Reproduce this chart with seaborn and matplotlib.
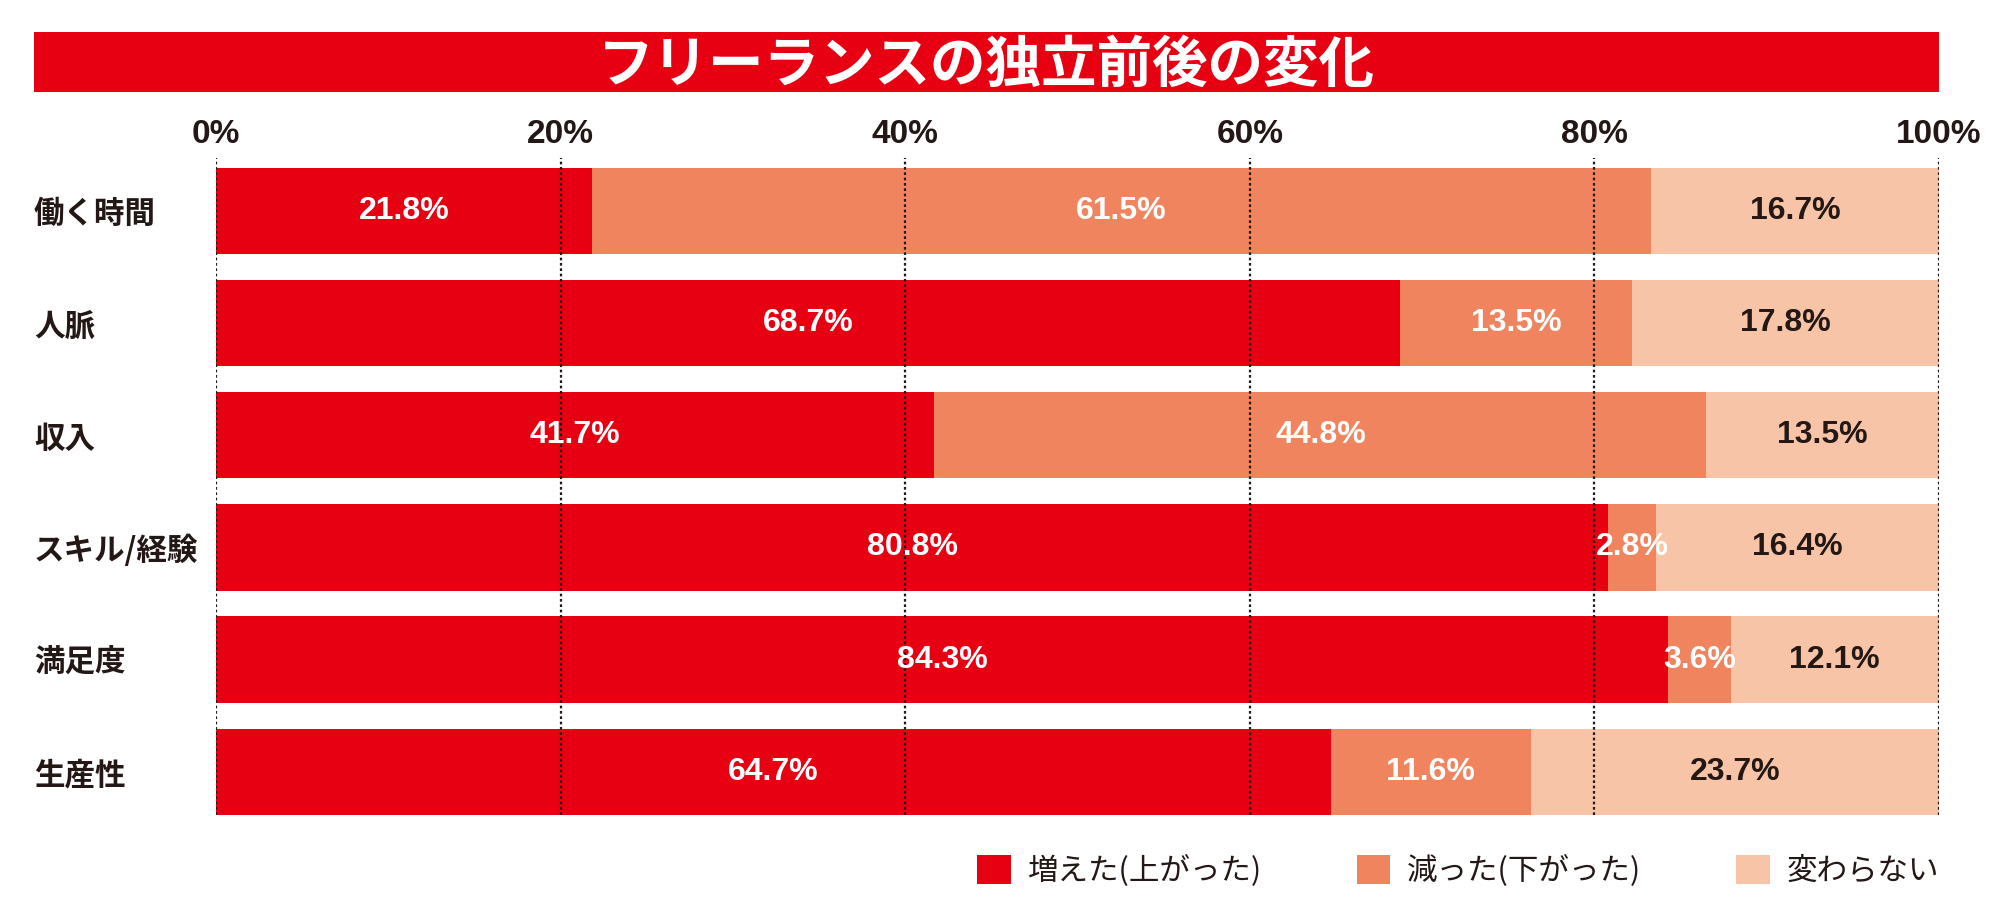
import matplotlib
matplotlib.use("Agg")
import matplotlib.pyplot as plt
import seaborn as sns
import pandas as pd
import numpy as np
from matplotlib.patches import Patch, Rectangle

categories = ["働く時間", "人脈", "収入", "スキル/経験", "満足度", "生産性"]
increased = [21.8, 68.7, 41.7, 80.8, 84.3, 64.7]
decreased = [61.5, 13.5, 44.8, 2.8, 3.6, 11.6]
unchanged = [16.7, 17.8, 13.5, 16.4, 12.1, 23.7]
series_names = ["増えた(上がった)", "減った(下がった)", "変わらない"]
tick_values = [0, 20, 40, 60, 80, 100]
tick_labels = ["0%", "20%", "40%", "60%", "80%", "100%"]
title = "フリーランスの独立前後の変化"

colors = ["#E60012", "#F0845E", "#F8C4A8"]
label_colors = ["white", "white", "#231815"]

sns.set_theme(style="white")
plt.rcParams["font.family"] = ["Noto Sans CJK JP", "DejaVu Sans"]
num_font = ["Liberation Sans Narrow", "DejaVu Sans Condensed", "Liberation Sans", "DejaVu Sans"]

df = pd.DataFrame({"cat": categories, "inc": increased, "dec": decreased, "unc": unchanged})
df["c1"] = df["inc"]
df["c2"] = df["inc"] + df["dec"]
df["c3"] = df["inc"] + df["dec"] + df["unc"]

fig = plt.figure(figsize=(20, 9.22), dpi=100)
W, H = 2000, 922
ax_left, ax_right = 216 / W, 1939 / W
ax_top, ax_bottom = 1 - 158 / H, 1 - 815 / H
ax = fig.add_axes([ax_left, ax_bottom, ax_right - ax_left, ax_top - ax_bottom])

bw = 0.77
for col, c in zip(["c3", "c2", "c1"], colors[::-1]):
    sns.barplot(data=df, x=col, y="cat", orient="h", color=c, width=bw,
                saturation=1, ax=ax, linewidth=0, zorder=2)

ax.set_xlim(0, 100)
ax.set_ylim(len(categories) - 1 + bw / 2, -0.47)

for v in tick_values:
    ax.axvline(v, color="#231815", linestyle=(0, (1.2, 1.2)), linewidth=1.6, zorder=5)

# value labels
starts = [np.zeros(len(df)), df["c1"].values, df["c2"].values]
vals = [df["inc"].values, df["dec"].values, df["unc"].values]
for s, v, lc in zip(starts, vals, label_colors):
    for i in range(len(df)):
        ax.text(s[i] + v[i] / 2, i, f"{v[i]:.1f}%", ha="center", va="center",
                color=lc, fontsize=23, fontweight="bold", family=num_font, zorder=6)

ax.xaxis.tick_top()
ax.set_xticks(tick_values)
ax.set_xticklabels(tick_labels, fontsize=24, fontweight="bold", family=num_font, color="#231815")
ax.tick_params(axis="x", length=0, pad=6)
ax.tick_params(axis="y", length=0, pad=(216 - 34) * 72 / 100)
ax.set_yticks(range(len(categories)))
ax.set_yticklabels(categories, fontsize=22, fontweight="bold", color="#231815")
for t in ax.get_yticklabels():
    t.set_horizontalalignment("left")
ax.set_xlabel("")
ax.set_ylabel("")
for sp in ax.spines.values():
    sp.set_visible(False)
ax.grid(False)

# title bar
fig.patches.append(Rectangle((34 / W, 1 - 92 / H), (1939 - 34) / W, 60 / H,
                             transform=fig.transFigure, facecolor="#E60012",
                             edgecolor="none", zorder=0))
fig.text((34 + 1939) / 2 / W, 1 - 66 / H, title, ha="center", va="center",
         color="white", fontsize=40, fontweight="bold")

handles = [Patch(facecolor=c, edgecolor="none") for c in colors]
fig.legend(handles, series_names, loc="center right",
           bbox_to_anchor=(1939 / W, 1 - 871 / H), ncol=3, frameon=False,
           fontsize=22, handlelength=1.1, handleheight=1.05, handletextpad=0.55,
           columnspacing=3.1, borderpad=0, borderaxespad=0, labelcolor="#231815")

fig.savefig("out.png", dpi=100)
